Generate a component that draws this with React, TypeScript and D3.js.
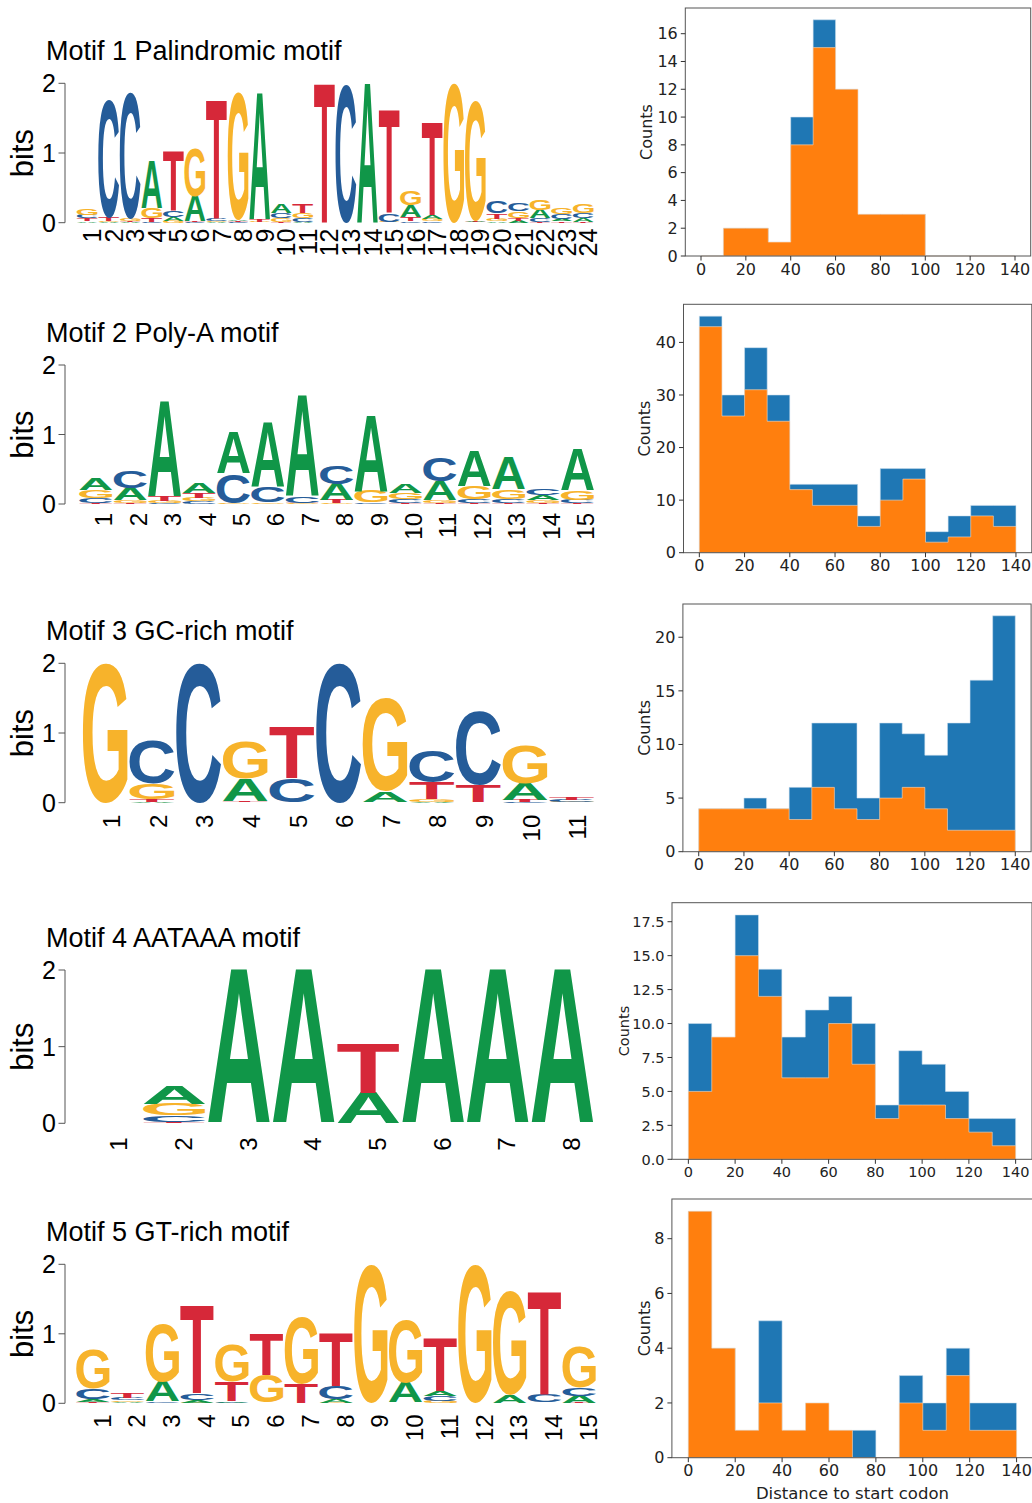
import React, { useMemo } from "react";
import * as d3 from "d3";

// ---------- sequence logo data: bits per position, [A, C, G, T] ----------
const BASES = ["A", "C", "G", "T"];
const BASE_COLORS: Record<string, string> = { A: "#109648", C: "#255C99", G: "#F7B32B", T: "#D62839" };

const motif1 = [
  [0.02, 0.05, 0.09, 0.04], [0.01, 1.70, 0.01, 0.05], [0.01, 1.82, 0.03, 0.01], [0.68, 0.01, 0.14, 0.05],
  [0.05, 0.10, 0.03, 0.85], [0.36, 0.01, 0.69, 0.01], [0.01, 0.04, 0.01, 1.71], [0.02, 0.01, 1.83, 0.01],
  [1.82, 0.005, 0.01, 0.03], [0.12, 0.08, 0.05, 0.01], [0.01, 0.05, 0.08, 0.12], [0, 0, 0, 2.0],
  [0, 1.99, 0, 0], [2.0, 0, 0, 0], [0.005, 0.12, 0.01, 1.48], [0.17, 0.02, 0.20, 0.06],
  [0.06, 0.02, 0.03, 1.34], [0, 0, 2.0, 0], [0.02, 0.005, 1.72, 0.01], [0.02, 0.17, 0.04, 0.08],
  [0.03, 0.12, 0.09, 0.04], [0.12, 0.05, 0.14, 0.01], [0.03, 0.07, 0.09, 0.02], [0.05, 0.08, 0.13, 0.01],
];
const motif2 = [
  [0.17, 0.07, 0.12, 0.01], [0.18, 0.25, 0.03, 0.02], [1.38, 0.01, 0.03, 0.07], [0.15, 0.04, 0.05, 0.07],
  [0.59, 0.42, 0.01, 0.005], [0.92, 0.23, 0.015, 0.005], [1.45, 0.10, 0.01, 0.01], [0.23, 0.26, 0.01, 0.05],
  [1.10, 0.02, 0.16, 0.005], [0.13, 0.06, 0.09, 0.01], [0.27, 0.33, 0.04, 0.01], [0.49, 0.06, 0.18, 0.01],
  [0.46, 0.06, 0.14, 0.01], [0.07, 0.10, 0.04, 0.02], [0.60, 0.05, 0.14, 0.01],
];
const motif3 = [
  [0, 0, 2.0, 0], [0.01, 0.62, 0.22, 0.04], [0, 2.0, 0, 0], [0.32, 0.005, 0.53, 0.015],
  [0.005, 0.34, 0.005, 0.74], [0, 2.0, 0, 0], [0.15, 0.005, 1.35, 0.005], [0.01, 0.46, 0.04, 0.24],
  [0.005, 1.06, 0.005, 0.24], [0.24, 0.01, 0.54, 0.03], [0.005, 0.03, 0.01, 0.04],
];
const motif4 = [
  [0, 0, 0, 0], [0.24, 0.09, 0.15, 0.01], [2.0, 0, 0, 0], [2.0, 0, 0, 0],
  [0.40, 0, 0, 0.63], [2.0, 0, 0, 0], [2.0, 0, 0, 0], [2.0, 0, 0, 0],
];
const motif5 = [
  [0.04, 0.15, 0.57, 0.02], [0.02, 0.04, 0.02, 0.08], [0.29, 0.02, 0.83, 0.005], [0.04, 0.10, 0.01, 1.26],
  [0.02, 0.01, 0.53, 0.28], [0.005, 0.005, 0.40, 0.60], [0.005, 0.005, 0.97, 0.27], [0.05, 0.19, 0.01, 0.76],
  [0, 0, 2.0, 0], [0.29, 0.005, 0.91, 0.005], [0.08, 0.07, 0.03, 0.76], [0, 0, 2.0, 0],
  [0.10, 0.005, 1.49, 0.005], [0.005, 0.11, 0.005, 1.48], [0.10, 0.12, 0.58, 0.01],
];
const motifTitles = [
  "Motif 1 Palindromic motif",
  "Motif 2 Poly-A motif",
  "Motif 3 GC-rich motif",
  "Motif 4 AATAAA motif",
  "Motif 5 GT-rich motif",
];
const bitTicks = [0, 1, 2];

// ---------- histogram data: counts per 10-bp bin ----------
const binEdges = [0, 10, 20, 30, 40, 50, 60, 70, 80, 90, 100, 110, 120, 130, 140];
const distTicks = [0, 20, 40, 60, 80, 100, 120, 140];

const blue1 = [0, 2, 2, 1, 10, 17, 12, 3, 3, 3, 0, 0, 0, 0];
const orange1 = [0, 2, 2, 1, 8, 15, 12, 3, 3, 3, 0, 0, 0, 0];
const blue2 = [45, 30, 39, 30, 13, 13, 13, 7, 16, 16, 4, 7, 9, 9];
const orange2 = [43, 26, 31, 25, 12, 9, 9, 5, 10, 14, 2, 3, 7, 5];
const blue3 = [4, 4, 5, 4, 6, 12, 12, 5, 12, 11, 9, 12, 16, 22];
const orange3 = [4, 4, 4, 4, 3, 6, 4, 3, 5, 6, 4, 2, 2, 2];
const blue4 = [10, 9, 18, 14, 9, 11, 12, 10, 4, 8, 7, 5, 3, 3];
const orange4 = [5, 9, 15, 12, 6, 6, 10, 7, 3, 4, 4, 3, 2, 1];
const blue5 = [9, 4, 1, 5, 1, 2, 1, 1, 0, 3, 2, 4, 2, 2];
const orange5 = [9, 4, 1, 2, 1, 2, 1, 0, 0, 2, 1, 3, 1, 1];

const countTicks1 = [0, 2, 4, 6, 8, 10, 12, 14, 16];
const countTicks2 = [0, 10, 20, 30, 40];
const countTicks3 = [0, 5, 10, 15, 20];
const countTicks4 = [0, 2.5, 5, 7.5, 10, 12.5, 15, 17.5];
const countTicks5 = [0, 2, 4, 6, 8];

// ---------- layout ----------
const LOGO_LAYOUT = [
  { zeroY: 222.7, twoY: 83.3, x0: 76.3, x1: 594, labelGap: 6, labelSize: 25, labelShift: 5 },
  { zeroY: 504, twoY: 365, x0: 78.6, x1: 594.6, labelGap: 9, labelSize: 24, labelShift: 8 },
  { zeroY: 802.7, twoY: 663.3, x0: 82, x1: 595, labelGap: 12, labelSize: 24, labelShift: 6 },
  { zeroY: 1123.3, twoY: 970, x0: 77.3, x1: 594.7, labelGap: 14, labelSize: 24, labelShift: 9 },
  { zeroY: 1403.3, twoY: 1264.3, x0: 75.5, x1: 596.6, labelGap: 11, labelSize: 24, labelShift: 9 },
];
const AXIS_X = 65;

const HIST_LAYOUT = [
  { left: 685.3, right: 1030.7, top: 8, bottom: 256, font: 16, ylabX: 652 },
  { left: 683.5, right: 1031.8, top: 304.3, bottom: 552.7, font: 16, ylabX: 650 },
  { left: 682.9, right: 1031.1, top: 604, bottom: 851.7, font: 16, ylabX: 650 },
  { left: 672, right: 1032, top: 902.7, bottom: 1159.3, font: 14.5, ylabX: 629 },
  { left: 671.9, right: 1033, top: 1199, bottom: 1457.7, font: 16, ylabX: 650 },
];

const REF = 200;
const LOGO_FONT = "'Liberation Sans', Arial, Helvetica, sans-serif";
const MPL_FONT = "'DejaVu Sans', sans-serif";

type Metric = { l: number; r: number; a: number; d: number };

function useLetterMetrics(): Record<string, Metric> {
  return useMemo(() => {
    const out: Record<string, Metric> = {};
    const ctx = document.createElement("canvas").getContext("2d");
    for (const b of BASES) {
      let m: Metric = { l: -0.01 * REF, r: 0.71 * REF, a: 0.73 * REF, d: 0.01 * REF };
      if (ctx) {
        ctx.font = `bold ${REF}px 'Liberation Sans'`;
        const t = ctx.measureText(b);
        if (t.actualBoundingBoxAscent > 0) {
          m = { l: t.actualBoundingBoxLeft, r: t.actualBoundingBoxRight, a: t.actualBoundingBoxAscent, d: t.actualBoundingBoxDescent };
        }
      }
      out[b] = m;
    }
    return out;
  }, []);
}

function Logo({ idx, data, metrics }: { idx: number; data: number[][]; metrics: Record<string, Metric> }) {
  const L = LOGO_LAYOUT[idx];
  const positions = data.map((_, i) => String(i + 1));
  const x = d3.scaleBand().domain(positions).range([L.x0, L.x1]);
  const y = d3.scaleLinear().domain([0, 2]).range([L.zeroY, L.twoY]);
  const bw = x.bandwidth();

  const letters: JSX.Element[] = [];
  data.forEach((col, i) => {
    const order = BASES.map((b, k) => ({ b, h: col[k] })).filter(d => d.h > 0).sort((a, c) => a.h - c.h);
    let cum = 0;
    order.forEach(({ b, h }) => {
      const yBot = y(cum);
      const yTop = y(cum + h);
      cum += h;
      const m = metrics[b];
      const w = bw * 0.96;
      const x0 = (x(positions[i]) as number) + bw * 0.02;
      const sx = w / (m.l + m.r);
      const sy = (yBot - yTop) / (m.a + m.d);
      letters.push(
        <text
          key={`${i}-${b}`}
          transform={`translate(${x0},${yTop}) scale(${sx},${sy}) translate(${m.l},${m.a})`}
          fontFamily={LOGO_FONT}
          fontWeight="bold"
          fontSize={REF}
          fill={BASE_COLORS[b]}
        >
          {b}
        </text>
      );
    });
  });

  return (
    <g>
      <text x={46} y={L.twoY - 23} fontFamily={LOGO_FONT} fontSize={27} fill="#000">
        {motifTitles[idx]}
      </text>
      <text
        transform={`translate(33,${(L.zeroY + L.twoY) / 2}) rotate(-90)`}
        textAnchor="middle"
        fontFamily={LOGO_FONT}
        fontSize={31}
        fill="#000"
      >
        bits
      </text>
      <line x1={AXIS_X} x2={AXIS_X} y1={y(0)} y2={y(2)} stroke="#555" strokeWidth={1} />
      {bitTicks.map(t => (
        <g key={t}>
          <line x1={AXIS_X - 6.5} x2={AXIS_X} y1={y(t)} y2={y(t)} stroke="#555" strokeWidth={1} />
          <text x={AXIS_X - 9} y={y(t)} dy="0.36em" textAnchor="end" fontFamily={LOGO_FONT} fontSize={25} fill="#000">
            {t}
          </text>
        </g>
      ))}
      {letters}
      {positions.map(p => (
        <text
          key={p}
          transform={`translate(${(x(p) as number) + bw / 2 + L.labelSize * 0.36 + L.labelShift},${L.zeroY + L.labelGap}) rotate(-90)`}
          textAnchor="end"
          fontFamily={LOGO_FONT}
          fontSize={L.labelSize}
          fill="#000"
        >
          {p}
        </text>
      ))}
    </g>
  );
}

function Hist({ idx, blue, orange, ticks, xlabel }: { idx: number; blue: number[]; orange: number[]; ticks: number[]; xlabel?: string }) {
  const H = HIST_LAYOUT[idx];
  const x = d3.scaleLinear().domain([-7, 147]).range([H.left, H.right]);
  const y = d3.scaleLinear().domain([0, (d3.max(blue.concat(orange)) as number) * 1.05]).range([H.bottom, H.top]);
  const lastEdge = binEdges[binEdges.length - 1];
  const area = d3
    .area<[number, number]>()
    .x(d => x(d[0]))
    .y0(y(0))
    .y1(d => y(d[1]))
    .curve(d3.curveStepAfter);
  const pts = (vals: number[]): [number, number][] => [
    ...vals.map((v, i) => [binEdges[i], v] as [number, number]),
    [lastEdge, vals[vals.length - 1]],
  ];
  const fmt = idx === 3 ? d3.format(".1f") : d3.format("d");
  const fs = H.font;
  return (
    <g>
      <path d={area(pts(blue)) || ""} fill="#1f77b4" stroke="#cfe0ee" strokeOpacity={0.7} strokeWidth={0.8} />
      <path d={area(pts(orange)) || ""} fill="#ff7f0e" stroke="#ffe3c8" strokeOpacity={0.7} strokeWidth={0.8} />
      <rect x={H.left} y={H.top} width={H.right - H.left} height={H.bottom - H.top} fill="none" stroke="#555" strokeWidth={1} />
      {ticks.map(t => (
        <g key={t}>
          <line x1={H.left - 4.5} x2={H.left} y1={y(t)} y2={y(t)} stroke="#333" strokeWidth={1} />
          <text x={H.left - 7.5} y={y(t)} dy="0.36em" textAnchor="end" fontFamily={MPL_FONT} fontSize={fs} fill="#222">
            {fmt(t)}
          </text>
        </g>
      ))}
      {distTicks.map(t => (
        <g key={t}>
          <line x1={x(t)} x2={x(t)} y1={H.bottom} y2={H.bottom + 4.5} stroke="#333" strokeWidth={1} />
          <text x={x(t)} y={H.bottom + 7 + fs * 0.73} textAnchor="middle" fontFamily={MPL_FONT} fontSize={fs} fill="#222">
            {t}
          </text>
        </g>
      ))}
      <text
        transform={`translate(${H.ylabX},${(H.top + H.bottom) / 2}) rotate(-90)`}
        textAnchor="middle"
        fontFamily={MPL_FONT}
        fontSize={fs}
        fill="#222"
      >
        Counts
      </text>
      {xlabel && (
        <text x={(H.left + H.right) / 2} y={1499} textAnchor="middle" fontFamily={MPL_FONT} fontSize={16.5} fill="#222">
          {xlabel}
        </text>
      )}
    </g>
  );
}

export default function App() {
  const metrics = useLetterMetrics();
  const motifs = [motif1, motif2, motif3, motif4, motif5];
  return (
    <svg
      width={1032}
      height={1503}
      viewBox="0 0 1032 1503"
      style={{ position: "absolute", left: 0, top: 0, background: "#fff" }}
    >
      <rect width={1032} height={1503} fill="#fff" />
      {motifs.map((m, i) => (
        <Logo key={i} idx={i} data={m} metrics={metrics} />
      ))}
      <Hist idx={0} blue={blue1} orange={orange1} ticks={countTicks1} />
      <Hist idx={1} blue={blue2} orange={orange2} ticks={countTicks2} />
      <Hist idx={2} blue={blue3} orange={orange3} ticks={countTicks3} />
      <Hist idx={3} blue={blue4} orange={orange4} ticks={countTicks4} />
      <Hist idx={4} blue={blue5} orange={orange5} ticks={countTicks5} xlabel="Distance to start codon" />
    </svg>
  );
}
